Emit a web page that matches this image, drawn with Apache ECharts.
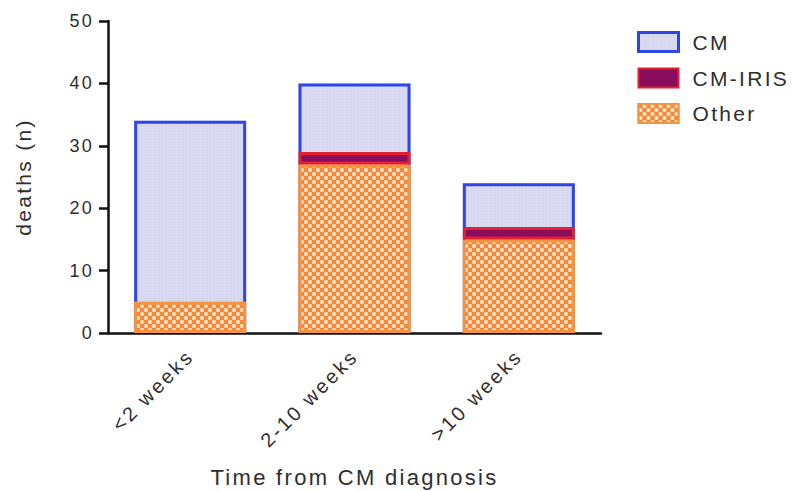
<!DOCTYPE html>
<html><head><meta charset="utf-8">
<script src="https://cdn.jsdelivr.net/npm/echarts@6/dist/echarts.min.js"></script>
<style>
html,body{margin:0;padding:0;background:#fff}
#c{width:798px;height:491px}
#c text{letter-spacing:2.3px}
#c text[style*="20px"]{letter-spacing:2.6px}
</style>
</head><body><div id="c"></div>
<script>
const categories = ['<2 weeks', '2-10 weeks', '>10 weeks'];
const otherValues = [5, 27, 15];
const irisValues = [0, 2, 2];
const cmValues = [29, 11, 7];
const yTicks = [0, 10, 20, 30, 40, 50];

const totals = categories.map((c, i) => otherValues[i] + irisValues[i] + cmValues[i]);
const font = 'Liberation Sans, Arial, Helvetica, sans-serif';
const textColor = '#2e2e2e';
const blue = '#2f45e6';
const chart = echarts.init(document.getElementById('c'), null, { renderer: 'svg' });
chart.setOption({
  animation: false,
  backgroundColor: '#ffffff',
  grid: { left: 108, right: 197, top: 21, bottom: 158, outerBoundsMode: 'none', containLabel: false },
  legend: {
    orient: 'vertical', left: 632, top: 26,
    icon: 'rect',
    itemWidth: 40, itemHeight: 19, itemGap: 14.5,
    textStyle: { fontFamily: font, fontSize: 21, color: textColor, padding: [0, 0, 0, 9] },
    data: [
      { name: 'CM', itemStyle: { borderColor: blue, borderWidth: 3 } },
      { name: 'CM-IRIS' },
      { name: 'Other' }
    ]
  },
  xAxis: {
    type: 'category', data: categories,
    name: 'Time from CM diagnosis', nameLocation: 'middle', nameGap: 133,
    nameTextStyle: { fontFamily: font, fontSize: 22, color: textColor },
    axisLine: { lineStyle: { color: '#111', width: 2.5 } },
    axisTick: { alignWithLabel: true, length: 8, lineStyle: { color: '#111', width: 2.5 } },
    axisLabel: { rotate: 45, fontFamily: font, fontSize: 20, color: textColor, margin: 20 }
  },
  yAxis: {
    type: 'value', min: yTicks[0], max: yTicks[yTicks.length - 1], interval: 10,
    name: 'deaths (n)', nameLocation: 'middle', nameGap: 74,
    nameTextStyle: { fontFamily: font, fontSize: 21, color: textColor },
    axisLine: { show: true, lineStyle: { color: '#111', width: 2.5 } },
    axisTick: { show: true, length: 9, lineStyle: { color: '#111', width: 2.5 } },
    splitLine: { show: false },
    axisLabel: { fontFamily: font, fontSize: 18, color: textColor, margin: 14 }
  },
  series: [
    {
      name: 'Other', type: 'bar', stack: 'd', data: otherValues, barWidth: 112, barGap: '-100%', z: 3,
      itemStyle: {
        color: '#f2893a', borderColor: '#f39443', borderWidth: 3,
        decal: { symbol: 'rect', symbolSize: 0.85, color: 'rgba(255,246,228,0.92)',
                 dashArrayX: [[3.5, 3.5], [0, 3.5, 3.5, 0]], dashArrayY: [3.5, 0] }
      }
    },
    {
      name: 'CM-IRIS', type: 'bar', stack: 'd', barWidth: 112, z: 4,
      data: irisValues.map(v => (v === 0 ? null : v)),
      itemStyle: { color: '#8a0c5c', borderColor: '#e2202e', borderWidth: 3 }
    },
    {
      name: 'CM', type: 'bar', stack: 'd', data: cmValues, barWidth: 112, z: 1,
      itemStyle: {
        color: '#dadaf1', borderWidth: 0,
        decal: { symbol: 'rect', symbolSize: 1, color: 'rgba(185,185,222,0.45)',
                 dashArrayX: [[1, 2], [0, 1.5, 1, 0.5]], dashArrayY: [1, 1] }
      }
    },
    {
      name: 'outline', type: 'bar', data: totals, barWidth: 112, barGap: '-100%', z: 2,
      silent: true,
      itemStyle: { color: 'rgba(0,0,0,0)', borderColor: blue, borderWidth: 3 }
    }
  ]
});
</script></body></html>
